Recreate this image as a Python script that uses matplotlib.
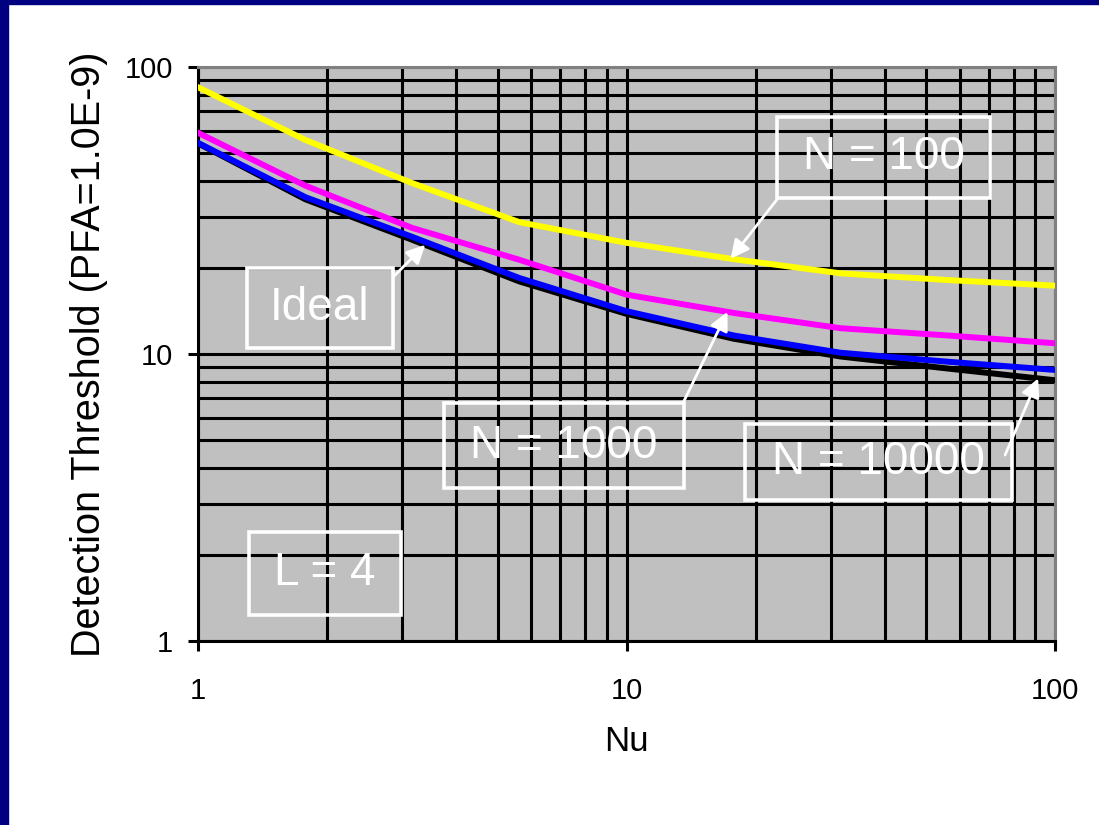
import numpy as np
import matplotlib
matplotlib.use('Agg')
from matplotlib import pyplot as plt
from matplotlib.patches import Rectangle
from matplotlib.ticker import LogLocator, NullFormatter

plt.rcParams['font.family'] = ['Liberation Sans', 'DejaVu Sans']

# Nu values where the curves were sampled
nu = [1, 1.78, 3.16, 5.62, 10, 17.8, 31.6, 56.2, 100]
# detection threshold
n100 = [85, 55.7, 39.4, 28.8, 24.4, 21.4, 19.1, 18.1, 17.3]
n1000 = [59, 38.6, 27.5, 21.3, 16.1, 13.9, 12.3, 11.6, 10.9]
n10000 = [54.4, 35.2, 25.6, 18.4, 14.1, 11.6, 10.1, 9.4, 8.8]
ideal = [54.2, 34.6, 25.0, 17.9, 13.8, 11.3, 9.8, 8.9, 8.1]

x_ticks = [1, 10, 100]
y_ticks = [1, 10, 100]


def on_curve(x, xs, ys):
    # log-log interpolation so the arrow tip lands on the drawn line
    return 10 ** np.interp(np.log10(x), np.log10(xs), np.log10(ys))


fig = plt.figure(figsize=(10.99, 8.25), dpi=100)
fig.patch.set_facecolor('white')
# navy frame strips (left and top)
fig.patches.append(Rectangle((0, 0), 8 / 1099, 1, transform=fig.transFigure,
                             color='#000080', zorder=0))
fig.patches.append(Rectangle((0, 1 - 4 / 825), 1, 4 / 825, transform=fig.transFigure,
                             color='#000080', zorder=0))

ax = fig.add_axes([0.1802, 0.223, 0.7798, 0.6958])
ax.set_facecolor('#C0C0C0')
ax.set_xscale('log')
ax.set_yscale('log')
ax.set_xlim(1, 100)
ax.set_ylim(1, 100)

ax.set_axisbelow(True)
ax.xaxis.set_minor_locator(LogLocator(base=10, subs=np.arange(2, 10)))
ax.yaxis.set_minor_locator(LogLocator(base=10, subs=np.arange(2, 10)))
ax.xaxis.set_minor_formatter(NullFormatter())
ax.yaxis.set_minor_formatter(NullFormatter())
ax.grid(True, which='both', color='black', linewidth=2.2)

ax.plot(nu, ideal, color='black', lw=4.3, solid_joinstyle='round', zorder=3)
ax.plot(nu, n10000, color='#0000FF', lw=4.3, solid_joinstyle='round', zorder=4)
ax.plot(nu, n1000, color='#FF00FF', lw=4.3, solid_joinstyle='round', zorder=4)
ax.plot(nu, n100, color='#FFFF00', lw=4.3, solid_joinstyle='round', zorder=4)

ax.set_xticks(x_ticks)
ax.set_xticklabels([str(v) for v in x_ticks])
ax.set_yticks(y_ticks)
ax.set_yticklabels([str(v) for v in y_ticks])
ax.tick_params(which='major', direction='out', length=7, width=2.2, labelsize=21,
               color='black')
ax.tick_params(axis='y', pad=11)
ax.tick_params(axis='x', pad=19)
ax.tick_params(which='minor', length=0)

for s in ['left', 'bottom']:
    ax.spines[s].set_color('black')
    ax.spines[s].set_linewidth(2.2)
for s in ['top', 'right']:
    ax.spines[s].set_color('#808080')
    ax.spines[s].set_linewidth(2.2)

ax.set_xlabel('Nu', fontsize=25, labelpad=14)
ax.set_ylabel('Detection Threshold (PFA=1.0E-9)', fontsize=28.5, labelpad=12)

# label boxes: (text, centre x, centre y, width, height) in axes fraction
boxes = [
    ('N = 100', 0.800, 0.843, 0.249, 0.141),
    ('Ideal', 0.142, 0.580, 0.170, 0.139),
    ('N = 1000', 0.427, 0.340, 0.280, 0.148),
    ('N = 10000', 0.794, 0.312, 0.312, 0.131),
    ('L = 4', 0.148, 0.118, 0.177, 0.145),
]
for txt, cx, cy, w, h in boxes:
    ax.add_patch(Rectangle((cx - w / 2, cy - h / 2), w, h, transform=ax.transAxes,
                           fill=False, ec='white', lw=2.6, zorder=6, clip_on=False))
    ax.text(cx, cy, txt, transform=ax.transAxes, ha='center', va='center',
            fontsize=33, color='white', zorder=7)

arrows = [
    ((0.677, 0.772), 17.5, n100),
    ((0.2275, 0.634), 3.39, ideal),
    ((0.566, 0.415), 17.2, n1000),
    ((0.9417, 0.324), 91.3, ideal),
]
for tail, xh, ys in arrows:
    ax.annotate('', xy=(xh, on_curve(xh, nu, ys)), xycoords='data',
                xytext=tail, textcoords='axes fraction',
                arrowprops=dict(arrowstyle='-|>', color='white', lw=2,
                                mutation_scale=28, shrinkA=0, shrinkB=0),
                zorder=7)

fig.savefig('out.png', dpi=100)
